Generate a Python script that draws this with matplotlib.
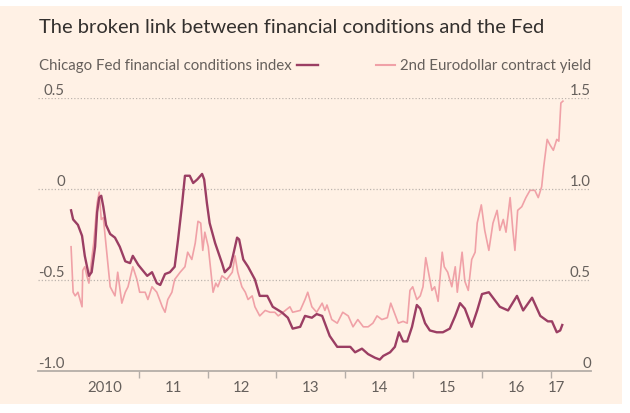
import matplotlib
matplotlib.use("Agg")
import matplotlib.pyplot as plt
from matplotlib.patches import Rectangle
from matplotlib.lines import Line2D

# Chicago Fed financial conditions index (left axis), dates as decimal years
nfci_t = [2010.01, 2010.04, 2010.11, 2010.17, 2010.21, 2010.27, 2010.31, 2010.36, 2010.39, 2010.42,
          2010.45, 2010.48, 2010.52, 2010.58, 2010.65, 2010.72, 2010.80, 2010.87, 2010.91, 2010.99,
          2011.12, 2011.19, 2011.26, 2011.31, 2011.38, 2011.45, 2011.52, 2011.57, 2011.63, 2011.67,
          2011.74, 2011.79, 2011.85, 2011.92, 2011.95, 2011.99, 2012.03, 2012.11, 2012.21, 2012.25,
          2012.33, 2012.37, 2012.43, 2012.46, 2012.52, 2012.59, 2012.69, 2012.76, 2012.87, 2012.95,
          2013.08, 2013.17, 2013.24, 2013.35, 2013.42, 2013.52, 2013.59, 2013.67, 2013.71, 2013.78,
          2013.89, 2013.97, 2014.08, 2014.15, 2014.25, 2014.34, 2014.44, 2014.51, 2014.56, 2014.66,
          2014.73, 2014.79, 2014.85, 2014.91, 2014.98, 2015.05, 2015.10, 2015.17, 2015.24, 2015.34,
          2015.43, 2015.53, 2015.61, 2015.68, 2015.75, 2015.85, 2015.93, 2016.00, 2016.10, 2016.16,
          2016.26, 2016.38, 2016.51, 2016.60, 2016.73, 2016.85, 2016.96, 2017.02, 2017.09, 2017.14,
          2017.17]
nfci_v = [-0.12, -0.17, -0.20, -0.26, -0.37, -0.48, -0.46, -0.32, -0.13, -0.05,
          -0.04, -0.10, -0.20, -0.25, -0.27, -0.32, -0.40, -0.41, -0.37, -0.42,
          -0.48, -0.46, -0.52, -0.53, -0.47, -0.46, -0.43, -0.28, -0.08, 0.07,
          0.07, 0.03, 0.05, 0.08, 0.05, -0.08, -0.19, -0.30, -0.41, -0.46,
          -0.43, -0.37, -0.27, -0.28, -0.39, -0.43, -0.50, -0.59, -0.59, -0.65,
          -0.68, -0.71, -0.77, -0.76, -0.70, -0.71, -0.69, -0.70, -0.74, -0.81,
          -0.87, -0.87, -0.87, -0.90, -0.88, -0.91, -0.93, -0.94, -0.92, -0.90,
          -0.87, -0.79, -0.84, -0.84, -0.76, -0.64, -0.66, -0.74, -0.78, -0.79,
          -0.79, -0.77, -0.70, -0.63, -0.66, -0.76, -0.67, -0.58, -0.57, -0.60,
          -0.65, -0.67, -0.59, -0.67, -0.60, -0.70, -0.73, -0.73, -0.79, -0.78,
          -0.75]

# 2nd Eurodollar contract yield (right axis)
ed_t = [2010.01, 2010.04, 2010.07, 2010.11, 2010.17, 2010.18, 2010.21, 2010.24, 2010.27, 2010.31,
        2010.34, 2010.39, 2010.42, 2010.45, 2010.48, 2010.53, 2010.58, 2010.65, 2010.69, 2010.75,
        2010.80, 2010.84, 2010.91, 2010.97, 2011.01, 2011.09, 2011.13, 2011.19, 2011.26, 2011.34,
        2011.38, 2011.42, 2011.48, 2011.52, 2011.60, 2011.67, 2011.71, 2011.77, 2011.82, 2011.86,
        2011.90, 2011.93, 2011.96, 2012.01, 2012.05, 2012.08, 2012.12, 2012.15, 2012.21, 2012.28,
        2012.36, 2012.40, 2012.44, 2012.50, 2012.55, 2012.59, 2012.65, 2012.69, 2012.76, 2012.84,
        2012.91, 2012.98, 2013.03, 2013.10, 2013.20, 2013.24, 2013.35, 2013.42, 2013.46, 2013.52,
        2013.59, 2013.67, 2013.71, 2013.74, 2013.81, 2013.89, 2013.97, 2014.05, 2014.12, 2014.19,
        2014.27, 2014.34, 2014.41, 2014.47, 2014.54, 2014.62, 2014.67, 2014.72, 2014.78, 2014.85,
        2014.91, 2014.95, 2014.99, 2015.05, 2015.10, 2015.14, 2015.18, 2015.23, 2015.27, 2015.31,
        2015.36, 2015.42, 2015.45, 2015.50, 2015.56, 2015.61, 2015.64, 2015.71, 2015.75, 2015.80,
        2015.85, 2015.90, 2015.93, 2015.99, 2016.04, 2016.10, 2016.16, 2016.22, 2016.26, 2016.31,
        2016.35, 2016.41, 2016.45, 2016.48, 2016.52, 2016.58, 2016.64, 2016.70, 2016.77, 2016.82,
        2016.87, 2016.90, 2016.95, 2016.99, 2017.04, 2017.09, 2017.12, 2017.15, 2017.18]
ed_v = [0.68, 0.43, 0.41, 0.43, 0.35, 0.55, 0.57, 0.52, 0.48, 0.61,
        0.70, 0.92, 0.98, 0.83, 0.84, 0.65, 0.46, 0.41, 0.54, 0.37,
        0.43, 0.46, 0.57, 0.50, 0.43, 0.43, 0.39, 0.46, 0.43, 0.35,
        0.32, 0.39, 0.43, 0.50, 0.54, 0.57, 0.65, 0.61, 0.70, 0.82,
        0.81, 0.66, 0.76, 0.68, 0.54, 0.43, 0.48, 0.46, 0.52, 0.50,
        0.54, 0.63, 0.54, 0.46, 0.43, 0.39, 0.41, 0.35, 0.30, 0.33,
        0.32, 0.32, 0.30, 0.32, 0.35, 0.32, 0.33, 0.39, 0.43, 0.35,
        0.32, 0.37, 0.33, 0.36, 0.28, 0.26, 0.32, 0.30, 0.24, 0.28,
        0.24, 0.24, 0.26, 0.30, 0.28, 0.29, 0.37, 0.32, 0.26, 0.27,
        0.26, 0.44, 0.46, 0.39, 0.41, 0.46, 0.62, 0.52, 0.44, 0.46,
        0.38, 0.65, 0.57, 0.54, 0.46, 0.57, 0.43, 0.65, 0.49, 0.44,
        0.61, 0.65, 0.81, 0.91, 0.77, 0.66, 0.81, 0.88, 0.77, 0.83,
        0.76, 0.95, 0.77, 0.66, 0.88, 0.90, 0.95, 0.99, 0.99, 0.95,
        1.01, 1.12, 1.27, 1.24, 1.21, 1.27, 1.26, 1.47, 1.48]

left_ticks = [0.5, 0, -0.5, -1.0]
left_labels = ["0.5", "0", "-0.5", "-1.0"]
right_ticks = [1.5, 1.0, 0.5, 0]
right_labels = ["1.5", "1.0", "0.5", "0"]
years = [2010, 2011, 2012, 2013, 2014, 2015, 2016, 2017]
year_labels = ["2010", "11", "12", "13", "14", "15", "16", "17"]

title = "The broken link between financial conditions and the Fed"
nfci_name = "Chicago Fed financial conditions index"
ed_name = "2nd Eurodollar contract yield"

BG = "#fff1e5"
TXT = "#66605c"
PURPLE = "#9b3e63"
PINK = "#f0a1a7"
GRID = "#bdb5ae"

plt.rcParams["font.family"] = ["Lato", "DejaVu Sans"]

W, H = 630, 414
fig = plt.figure(figsize=(W / 100, H / 100), dpi=100, facecolor="white")
fig.patches.append(Rectangle((0, 9 / H), 622 / W, 398 / H, transform=fig.transFigure,
                             facecolor=BG, edgecolor="none", zorder=-10))

ax = fig.add_axes([38 / W, (H - 371.5) / H, 553 / W, 273 / H])
ax2 = ax.twinx()
ax.set_zorder(ax2.get_zorder() + 1)
ax.patch.set_visible(False)
ax2.patch.set_visible(False)

ax2.plot(ed_t, ed_v, color=PINK, lw=1.2, solid_joinstyle="round")
ax.plot(nfci_t, nfci_v, color=PURPLE, lw=1.7, solid_joinstyle="round")

ax.set_xlim(2009.528, 2017.589)
ax.set_ylim(-1.0, 0.5)
ax2.set_ylim(0, 1.5)

for a in (ax, ax2):
    for s in a.spines.values():
        s.set_visible(False)
    a.set_yticks([])

# dotted gridlines + solid baseline
for v in left_ticks[:-1]:
    ax.axhline(v, color=GRID, lw=0.9, linestyle=(0, (1, 1.6)), zorder=0)
ax.axhline(-1.0, color="#b5aea8", lw=1.3, zorder=1, clip_on=False)

# FT-style labels sitting on top of gridlines
for v, lab in zip(left_ticks, left_labels):
    ax.text(27 / 553, v, lab, transform=ax.get_yaxis_transform(), ha="right", va="bottom",
            fontsize=10.8, color=TXT)
for v, lab in zip(right_ticks, right_labels):
    ax2.text(1.0, v, lab, transform=ax2.get_yaxis_transform(), ha="right", va="bottom",
             fontsize=10.8, color=TXT)

# year boundaries as ticks, labels in between
ax.set_xticks(years[1:])
ax.set_xticklabels([])
ax.tick_params(axis="x", which="major", length=5, width=1, color="#b5aea8", direction="out")
label_pos = [y + 0.5 for y in years[:-1]] + [years[-1] + 0.08]
ax.set_xticks(label_pos, minor=True)
ax.set_xticklabels(year_labels, minor=True)
ax.tick_params(axis="x", which="minor", length=0, pad=7, labelsize=10.8, labelcolor=TXT)

# title and legend row
fig.text(39 / W, 1 - 33 / H, title, fontsize=14.5, color="#33302e", va="baseline")
fig.text(39 / W, 1 - 70 / H, nfci_name, fontsize=10.8, color=TXT, va="baseline")
fig.lines.append(Line2D([297 / W, 318 / W], [1 - 65.5 / H] * 2, transform=fig.transFigure,
                        color=PURPLE, lw=1.7))
fig.lines.append(Line2D([376 / W, 395 / W], [1 - 65.5 / H] * 2, transform=fig.transFigure,
                        color=PINK, lw=1.5))
fig.text(591 / W, 1 - 70 / H, ed_name, fontsize=10.8, color=TXT, va="baseline", ha="right")

fig.savefig("out.png", dpi=100, facecolor="white")
